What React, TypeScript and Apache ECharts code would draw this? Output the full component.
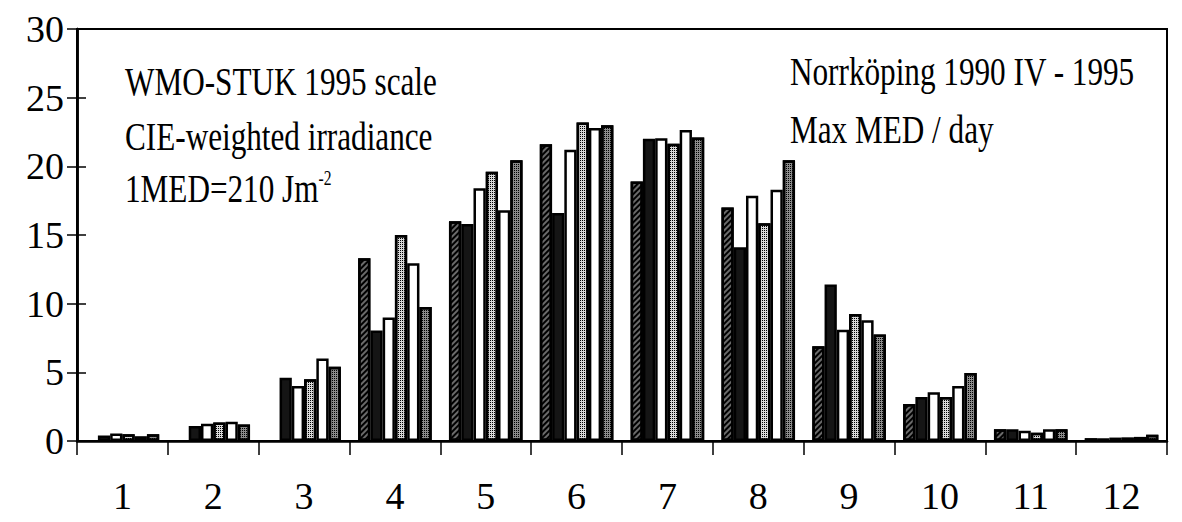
import React, { useEffect, useRef } from "react";
import * as echarts from "echarts";

const months = ["1", "2", "3", "4", "5", "6", "7", "8", "9", "10", "11", "12"];
const years = ["1990", "1991", "1992", "1993", "1994", "1995"];
const yTicks = { min: 0, max: 30, interval: 5 };

const s1990 = [null, null, null, 13.3, 16.0, 21.6, 18.9, 17.0, 6.9, 2.7, 0.85, 0.2];
const s1991 = [0.4, 1.1, 4.6, 8.05, 15.8, 16.6, 22.0, 14.1, 11.4, 3.2, 0.85, 0.2];
const s1992 = [0.55, 1.25, 4.0, 9.0, 18.4, 21.2, 22.05, 17.85, 8.1, 3.55, 0.75, 0.25];
const s1993 = [0.5, 1.35, 4.5, 15.0, 19.6, 23.2, 21.65, 15.85, 9.25, 3.2, 0.6, 0.25];
const s1994 = [0.35, 1.4, 6.0, 12.95, 16.8, 22.8, 22.65, 18.3, 8.8, 4.0, 0.85, 0.3];
const s1995 = [0.5, 1.2, 5.4, 9.75, 20.45, 23.0, 22.1, 20.45, 7.75, 4.95, 0.85, 0.45];
const seriesData = [s1990, s1991, s1992, s1993, s1994, s1995];

const leftNotes = ["WMO-STUK 1995 scale", "CIE-weighted irradiance"];
const medNote = ["1MED=210 Jm", "-2"];
const rightNotes = ["Norrköping 1990 IV - 1995", "Max MED / day"];

const FONT = "'Liberation Serif', 'Times New Roman', serif";

const barStyles: any[] = [
  {
    color: "#6a6a6a",
    decal: { symbol: "rect", symbolSize: 1, color: "#000", dashArrayX: [1, 0], dashArrayY: [2, 2], rotation: -Math.PI / 4 },
  },
  { color: "#151515" },
  { color: "#ffffff" },
  {
    color: "#d8d8d8",
    decal: { symbol: "rect", symbolSize: 1, color: "#000", dashArrayX: [1, 1], dashArrayY: [1, 1] },
  },
  { color: "#ffffff" },
  {
    color: "#8a8a8a",
    decal: { symbol: "rect", symbolSize: 1, color: "#000", dashArrayX: [1, 1], dashArrayY: [1, 1] },
  },
];

export default function App() {
  const ref = useRef<HTMLDivElement>(null);
  useEffect(() => {
    if (!ref.current) return;
    const chart = echarts.init(ref.current, null, { renderer: "svg" });
    const axisCommon = {
      type: "value",
      min: yTicks.min,
      max: yTicks.max,
      interval: yTicks.interval,
      splitLine: { show: false },
      axisLine: { show: true, lineStyle: { color: "#000", width: 2.5 } },
    };
    const textScale = 0.78;
    const fs = 40;
    const mkText = (t: string, x: number, baseline: number) => ({
      type: "text",
      x,
      y: baseline - 0.34 * fs,
      scaleX: textScale,
      style: { text: t, fontFamily: FONT, fontSize: fs, fill: "#000", verticalAlign: "middle", align: "left" },
    });
    const option: any = {
      animation: false,
      grid: { left: 77, right: 15, top: 29, bottom: 81, show: true, borderColor: "#000", borderWidth: 2 },
      xAxis: {
        type: "category",
        data: months,
        axisLine: { lineStyle: { color: "#000", width: 2.5 } },
        axisTick: { show: true, length: 14, lineStyle: { color: "#000", width: 1.5 } },
        axisLabel: { color: "#000", fontFamily: FONT, fontSize: 38, margin: 36 },
        splitLine: { show: false },
      },
      yAxis: [
        {
          ...axisCommon,
          axisTick: { show: true, length: 10, lineStyle: { color: "#000", width: 1.5 } },
          axisLabel: { color: "#000", fontFamily: FONT, fontSize: 38, margin: 13 },
        },
        {
          ...axisCommon,
          position: "left",
          axisTick: { show: true, inside: true, length: 9, lineStyle: { color: "#000", width: 1.5 } },
          axisLabel: { show: false },
        },
      ],
      series: years.map((y, i) => ({
        name: y,
        type: "bar",
        data: seriesData[i],
        barGap: "0%",
        barCategoryGap: "19%",
        itemStyle: { ...barStyles[i], borderColor: "#000", borderWidth: 2.5 },
      })),
      graphic: [
        mkText(leftNotes[0], 125, 95),
        mkText(leftNotes[1], 125, 150),
        {
          type: "text",
          x: 125,
          y: 202 - 0.34 * fs,
          scaleX: textScale,
          style: {
            text: `{a|${medNote[0]}}{s|${medNote[1]}}`,
            verticalAlign: "middle",
            align: "left",
            rich: {
              a: { fontFamily: FONT, fontSize: fs, fill: "#000", color: "#000" },
              s: { fontFamily: FONT, fontSize: 20, fill: "#000", color: "#000", verticalAlign: "top", padding: [0, 0, 18, 0] },
            },
          },
        },
        mkText(rightNotes[0], 790, 85),
        mkText(rightNotes[1], 790, 143),
      ],
    };
    chart.setOption(option);
    return () => chart.dispose();
  }, []);
  return <div ref={ref} style={{ position: "fixed", left: 0, top: 0, width: 1182, height: 522, background: "#fff" }} />;
}
